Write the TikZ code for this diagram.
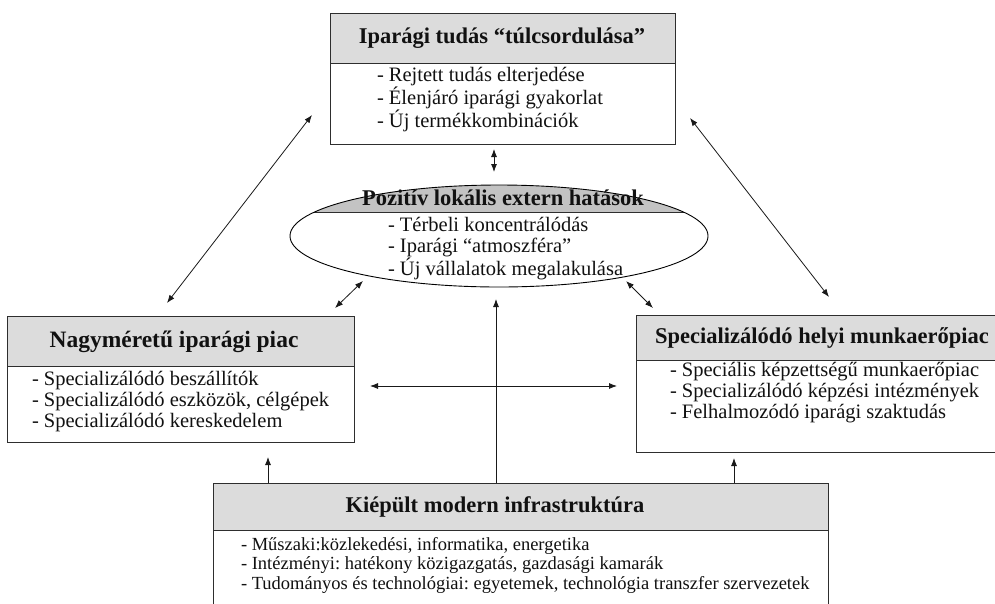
\documentclass[tikz,border=0pt]{standalone}
\usepackage{fontspec}
\setmainfont{Liberation Serif}
\usetikzlibrary{arrows.meta,shapes.geometric}
\definecolor{hdrgray}{HTML}{DCDCDC}
\definecolor{capgray}{HTML}{C3C3C3}
\definecolor{edge}{HTML}{2E2E2E}
\definecolor{ink}{HTML}{111111}
\frenchspacing
\begin{document}
\frenchspacing
\begin{tikzpicture}[x=1pt,y=-1pt,
  boxframe/.style={draw=edge,line width=1pt,fill=white,inner sep=0pt,outer sep=0pt},
  hdr/.style={draw=edge,line width=1pt,fill=hdrgray,inner sep=0pt,outer sep=0pt},
  ttl/.style={inner sep=0pt,outer sep=0pt,font=\fontsize{22.5}{24}\selectfont\bfseries,text=ink},
  items/.style={inner sep=0pt,outer sep=0pt,align=left,anchor=west,
    font=\fontsize{20.5}{21}\selectfont,text=ink},
  arr/.style={draw=black!90,line width=0.8pt,-{Latex[length=8pt,width=6pt]}},
  dbl/.style={draw=black!90,line width=0.8pt,{Latex[length=8pt,width=6pt]}-{Latex[length=8pt,width=6pt]}}]
\useasboundingbox (0,0) rectangle (995,603);
\clip (0,0) rectangle (995,603);

% ---- top box
\node[boxframe,minimum width=345pt,minimum height=131pt] (top) at (502.5,78.5) {};
\node[hdr,minimum width=345pt,minimum height=50pt,anchor=north] (topH) at (top.north) {};
\node[ttl] (topT) at (502,38) {Iparági tudás “túlcsordulása”};
\node[items] (topI) at (377,100) {- Rejtett tudás elterjedése\\- Élenjáró iparági gyakorlat\\- Új termékkombinációk};

% ---- ellipse
\fill[white] (499,236) ellipse [x radius=209, y radius=51];
\begin{scope}
  \clip (0,0) rectangle (995,212);
  \fill[capgray] (499,236) ellipse [x radius=209, y radius=51];
\end{scope}
\begin{scope}
  \clip (499,236) ellipse [x radius=209, y radius=51];
  \draw[edge,line width=0.9pt] (280,212) -- (720,212);
\end{scope}
\node[ellipse,draw=black,line width=0.9pt,minimum width=418pt,minimum height=102pt,inner sep=0pt,outer sep=0pt] (ell) at (499,236) {};
\node[ttl] (ellT) at (503,197.5) {Pozitív lokális extern hatások};
\node[items] (ellI) at (388,249) {- Térbeli koncentrálódás\\- Iparági “atmoszféra”\\- Új vállalatok megalakulása};

% ---- left box
\node[boxframe,minimum width=347pt,minimum height=126pt] (left) at (180.5,379) {};
\node[hdr,minimum width=347pt,minimum height=50pt,anchor=north] (leftH) at (left.north) {};
\node[ttl,font=\fontsize{23.5}{25}\selectfont\bfseries] (leftT) at (174,342) {Nagyméretű iparági piac};
\node[items] (leftI) at (32,402) {- Specializálódó beszállítók\\- Specializálódó eszközök, célgépek\\- Specializálódó kereskedelem};

% ---- right box
\node[boxframe,minimum width=369pt,minimum height=137pt] (right) at (820.5,383.5) {};
\node[hdr,minimum width=369pt,minimum height=45pt,anchor=north] (rightH) at (right.north) {};
\node[ttl] (rightT) at (822,338) {Specializálódó helyi munkaerőpiac};
\node[items] (rightI) at (670,393) {- Speciális képzettségű munkaerőpiac\\- Specializálódó képzési intézmények\\- Felhalmozódó iparági szaktudás};

% ---- bottom box
\node[boxframe,minimum width=615pt,minimum height=132pt] (bot) at (520.5,549) {};
\node[hdr,minimum width=615pt,minimum height=47pt,anchor=north] (botH) at (bot.north) {};
\node[ttl] (botT) at (495,507) {Kiépült modern infrastruktúra};
\node[items,font=\fontsize{18.5}{19.5}\selectfont] (botI) at (241,565) {- Műszaki:közlekedési, informatika, energetika\\- Intézményi: hatékony közigazgatás, gazdasági kamarák\\- Tudományos és technológiai: egyetemek, technológia transzfer szervezetek};

% ---- connectors
\coordinate (c1a) at (494,149);  \coordinate (c1b) at (494,172);
\draw[dbl] (c1a) -- (c1b);
\coordinate (c2a) at (167,303);  \coordinate (c2b) at (312,115);
\draw[dbl] (c2a) -- (c2b);
\coordinate (c3a) at (690,118);  \coordinate (c3b) at (829,297);
\draw[dbl] (c3a) -- (c3b);
\coordinate (c4a) at (335,308);  \coordinate (c4b) at (363,281);
\draw[dbl] (c4a) -- (c4b);
\coordinate (c5a) at (626,281);  \coordinate (c5b) at (653,308);
\draw[dbl] (c5a) -- (c5b);
\coordinate (c6a) at (370,386);  \coordinate (c6b) at (617,386);
\draw[dbl] (c6a) -- (c6b);
\coordinate (vtip) at (496,299);
\draw[arr] (bot.north -| vtip) -- (vtip);
\coordinate (ltip) at (268,457);
\draw[arr] (bot.north -| ltip) -- (ltip);
\coordinate (rtip) at (734,458);
\draw[arr] (bot.north -| rtip) -- (rtip);
\end{tikzpicture}
\end{document}
